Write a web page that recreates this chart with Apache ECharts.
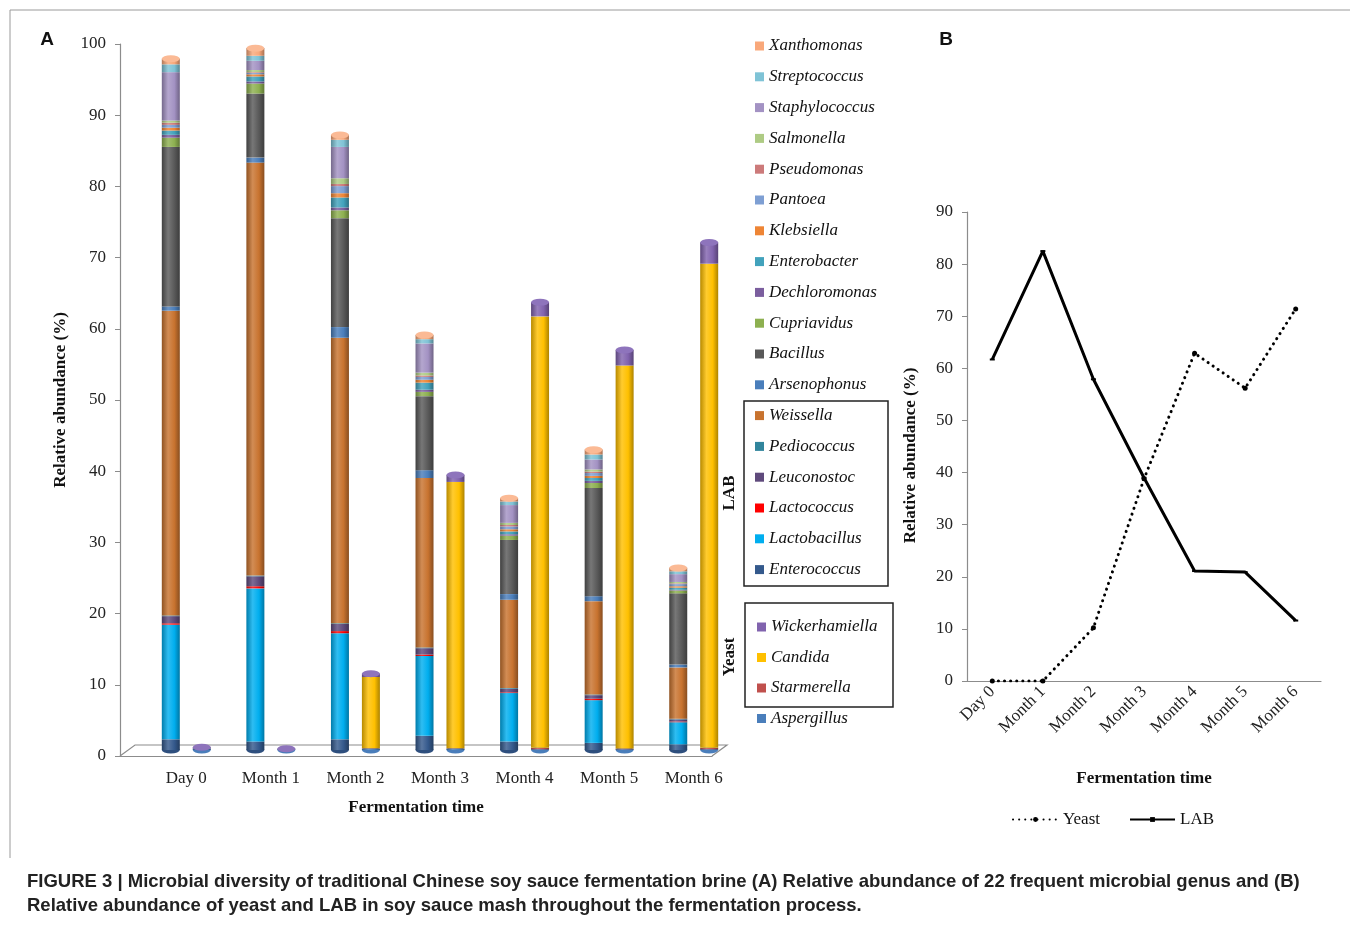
<!DOCTYPE html>
<html><head><meta charset="utf-8">
<script src="https://cdn.jsdelivr.net/npm/echarts@6/dist/echarts.min.js"></script>
<style>html,body{margin:0;padding:0;background:#fff}#c{width:1350px;height:925px}</style>
</head><body><div id="c"></div>
<script>
// ---------- DATA ----------
const categories = ['Day 0','Month 1','Month 2','Month 3','Month 4','Month 5','Month 6'];
const yTicksA = [0,10,20,30,40,50,60,70,80,90,100];

// Bacteria (stack order bottom -> top)
const Enterococcus   = [1.5, 1.2, 1.5, 2.0, 1.2, 1.0, 0.8];
const Lactobacillus  = [16.1, 21.5, 14.9, 11.2, 6.8, 6.0, 3.1];
const Lactococcus    = [0.2, 0.3, 0.3, 0.2, 0.1, 0.2, 0.1];
const Leuconostoc    = [1.0, 1.4, 1.0, 0.9, 0.5, 0.5, 0.3];
const Pediococcus    = [0.1, 0.1, 0.1, 0.1, 0.1, 0.1, 0.1];
const Weissella      = [42.8, 58.0, 40.1, 23.8, 12.4, 13.1, 7.2];
const Arsenophonus   = [0.6, 0.7, 1.5, 1.1, 0.8, 0.7, 0.4];
const Bacillus       = [22.4, 9.0, 15.3, 10.4, 7.6, 15.2, 10.0];
const Cupriavidus    = [1.3, 1.4, 1.1, 0.6, 0.6, 0.7, 0.4];
const Dechloromonas  = [0.4, 0.3, 0.4, 0.3, 0.2, 0.3, 0.1];
const Enterobacter   = [0.6, 0.7, 1.4, 1.0, 0.4, 0.4, 0.3];
const Klebsiella     = [0.4, 0.3, 0.6, 0.4, 0.3, 0.3, 0.2];
const Pantoea        = [0.4, 0.2, 1.0, 0.4, 0.4, 0.4, 0.3];
const Pseudomonas    = [0.3, 0.1, 0.3, 0.2, 0.2, 0.2, 0.1];
const Salmonella     = [0.3, 0.3, 0.8, 0.4, 0.3, 0.3, 0.2];
const Staphylococcus = [6.8, 1.3, 4.4, 4.1, 2.5, 1.4, 1.1];
const Streptococcus  = [1.1, 0.7, 1.0, 0.6, 0.5, 0.7, 0.4];
const Xanthomonas    = [0.8, 1.1, 0.7, 0.6, 0.5, 0.7, 0.5];

// Yeast / fungi (stack order bottom -> top)
const Aspergillus    = [0.2, 0.1, 0.2, 0.2, 0.1, 0.1, 0.1];
const Starmerella    = [0.0, 0.0, 0.05, 0.05, 0.2, 0.1, 0.2];
const Candida        = [0.0, 0.0, 10.0, 37.4, 60.6, 53.8, 68.0];
const Wickerhamiella = [0.2, 0.1, 0.5, 1.0, 2.0, 2.2, 3.0];

// Panel B
const yeastLine = [0, 0, 10.2, 38.8, 62.9, 56.2, 71.4];
const labLine   = [61.7, 82.5, 57.9, 39.0, 21.1, 20.9, 11.6];
const yTicksB = [0,10,20,30,40,50,60,70,80,90];

const bacteriaNames = ['Enterococcus','Lactobacillus','Lactococcus','Leuconostoc','Pediococcus','Weissella','Arsenophonus','Bacillus','Cupriavidus','Dechloromonas','Enterobacter','Klebsiella','Pantoea','Pseudomonas','Salmonella','Staphylococcus','Streptococcus','Xanthomonas'];
const bacteriaValues = [Enterococcus,Lactobacillus,Lactococcus,Leuconostoc,Pediococcus,Weissella,Arsenophonus,Bacillus,Cupriavidus,Dechloromonas,Enterobacter,Klebsiella,Pantoea,Pseudomonas,Salmonella,Staphylococcus,Streptococcus,Xanthomonas];
const bacteriaColors = ['#34598C','#00AEEF','#FF0000','#5F4A7C','#31859C','#C8732F','#4A7EBB','#595959','#8DB050','#7B5E9E','#42A2BC','#EE8535','#7E9FD3','#CC7A7A','#AECB84','#A392C3','#7FC3D6','#F9A87A'];
const yeastNames = ['Aspergillus','Starmerella','Candida','Wickerhamiella'];
const yeastValues = [Aspergillus,Starmerella,Candida,Wickerhamiella];
const yeastColors = ['#4A7EBB','#C0504D','#FFC000','#8163AE'];

// ---------- HELPERS ----------
function shade(hex, f){
  const n = parseInt(hex.slice(1),16);
  let r=(n>>16)&255,g=(n>>8)&255,b=n&255;
  if(f<1){r*=f;g*=f;b*=f;} else {r=r+(255-r)*(f-1);g=g+(255-g)*(f-1);b=b+(255-b)*(f-1);}
  return 'rgb('+Math.round(r)+','+Math.round(g)+','+Math.round(b)+')';
}
function cyl(hex){
  return new echarts.graphic.LinearGradient(0,0,1,0,[
    {offset:0,color:shade(hex,0.72)},
    {offset:0.35,color:shade(hex,1.18)},
    {offset:0.7,color:hex},
    {offset:1,color:shade(hex,0.68)}
  ]);
}
function sums(list){ return categories.map((_,i)=>+list.reduce((s,a)=>s+a[i],0).toFixed(2)); }
const bacTotal = sums(bacteriaValues);
const yeastTotal = sums(yeastValues);

// ---------- LAYOUT CONSTANTS ----------
const BW = 18, BGAP = '72%';
const FRONT = {left:120, top:44, width:592, height:712};
const DEPTH = {dx:15, dy:-11};
const SERIF = 'Liberation Serif';

const chart = echarts.init(document.getElementById('c'), null, {renderer:'canvas'});

const series = [];
bacteriaNames.forEach((n,i)=>series.push({
  name:n, type:'bar', stack:'bac', xAxisIndex:0, yAxisIndex:0,
  barWidth:BW, barGap:BGAP, data:bacteriaValues[i], z:2,
  itemStyle:{color:cyl(bacteriaColors[i])}
}));
yeastNames.forEach((n,i)=>series.push({
  name:n, type:'bar', stack:'yeast', xAxisIndex:0, yAxisIndex:0,
  barWidth:BW, barGap:BGAP, data:yeastValues[i], z:2,
  itemStyle:{color:cyl(yeastColors[i])}
}));
// top caps
series.push({name:'capBac', type:'pictorialBar', xAxisIndex:0, yAxisIndex:0, barWidth:BW, barGap:BGAP,
  symbol:'circle', symbolSize:[BW,7], symbolPosition:'end', symbolOffset:[0,'-50%'], z:5,
  itemStyle:{color:'#FBBA95', borderColor:'rgba(150,80,40,0.5)', borderWidth:0.6}, data:bacTotal, silent:true});
series.push({name:'capYeast', type:'pictorialBar', xAxisIndex:0, yAxisIndex:0, barWidth:BW, barGap:BGAP,
  symbol:'circle', symbolSize:[BW,7], symbolPosition:'end', symbolOffset:[0,'-50%'], z:5,
  itemStyle:{color:'#8E74BC', borderColor:'rgba(60,40,90,0.5)', borderWidth:0.6}, data:yeastTotal, silent:true});
// bottom caps (separate identical grid so they share slots)
series.push({name:'botBac', type:'pictorialBar', xAxisIndex:3, yAxisIndex:3, barWidth:BW, barGap:BGAP,
  symbol:'circle', symbolSize:[BW,7], symbolPosition:'start', symbolOffset:[0,'50%'], z:1,
  itemStyle:{color:'#2E4F7E'}, data:bacTotal, silent:true});
series.push({name:'botYeast', type:'pictorialBar', xAxisIndex:3, yAxisIndex:3, barWidth:BW, barGap:BGAP,
  symbol:'circle', symbolSize:[BW,7], symbolPosition:'start', symbolOffset:[0,'50%'], z:1,
  itemStyle:{color:'#4A7EBB'}, data:yeastTotal, silent:true});
// Panel B lines
series.push({name:'Yeast', type:'line', xAxisIndex:2, yAxisIndex:2, data:yeastLine,
  symbol:'circle', symbolSize:5, itemStyle:{color:'#000'},
  lineStyle:{color:'#000', width:3, type:[0.1,6], cap:'round'}});
series.push({name:'LAB', type:'line', xAxisIndex:2, yAxisIndex:2, data:labLine,
  symbol:'rect', symbolSize:[5,2], itemStyle:{color:'#000'},
  lineStyle:{color:'#000', width:3}});

const axisGray = '#8c8c8c';
const tickLbl = {fontFamily:SERIF, fontSize:17, color:'#222'};

const option = {
  animation:false,
  backgroundColor:'#fff',
  grid:[
    {left:FRONT.left+24, top:FRONT.top-6, width:FRONT.width, height:FRONT.height}, // bars (mid depth)
    {left:FRONT.left, top:FRONT.top, width:FRONT.width, height:FRONT.height},      // front frame
    {left:967, top:212, width:354, height:469},                                    // panel B
    {left:FRONT.left+24, top:FRONT.top-6, width:FRONT.width, height:FRONT.height}  // bottom caps
  ],
  xAxis:[
    {gridIndex:0, type:'category', data:categories, axisLine:{show:false}, axisTick:{show:false},
      axisLabel:Object.assign({margin:20}, tickLbl)},
    {gridIndex:1, type:'category', data:categories, axisLabel:{show:false},
      axisLine:{lineStyle:{color:axisGray, width:1.2}}, axisTick:{length:6, lineStyle:{color:axisGray}},
      name:'Fermentation time', nameLocation:'middle', nameGap:43,
      nameTextStyle:{fontFamily:SERIF, fontSize:17, fontWeight:'bold', color:'#111'}},
    {gridIndex:2, type:'category', data:categories,
      axisLine:{lineStyle:{color:axisGray, width:1.2}}, axisTick:{length:6, lineStyle:{color:axisGray}},
      axisLabel:Object.assign({rotate:45, margin:8}, tickLbl),
      name:'Fermentation time', nameLocation:'middle', nameGap:89,
      nameTextStyle:{fontFamily:SERIF, fontSize:17, fontWeight:'bold', color:'#111'}},
    {gridIndex:3, type:'category', data:categories, show:false}
  ],
  yAxis:[
    {gridIndex:0, type:'value', min:0, max:100, show:false},
    {gridIndex:1, type:'value', min:yTicksA[0], max:yTicksA[yTicksA.length-1], interval:10,
      axisLine:{show:true, lineStyle:{color:axisGray, width:1.2}}, axisTick:{show:true, length:5, lineStyle:{color:axisGray}},
      splitLine:{show:false}, axisLabel:Object.assign({margin:14}, tickLbl),
      name:'Relative abundance (%)', nameLocation:'middle', nameGap:51,
      nameTextStyle:{fontFamily:SERIF, fontSize:17, fontWeight:'bold', color:'#111'}},
    {gridIndex:2, type:'value', min:yTicksB[0], max:yTicksB[yTicksB.length-1], interval:10,
      axisLine:{show:true, lineStyle:{color:axisGray, width:1.2}}, axisTick:{show:true, length:5, lineStyle:{color:axisGray}},
      splitLine:{show:false}, axisLabel:Object.assign({margin:14}, tickLbl),
      name:'Relative abundance (%)', nameLocation:'middle', nameGap:48,
      nameTextStyle:{fontFamily:SERIF, fontSize:17, fontWeight:'bold', color:'#111', padding:[0,18,0,0]}},
    {gridIndex:3, type:'value', min:0, max:100, show:false}
  ],
  legend:[
    {orient:'vertical', left:755, top:37, padding:0, itemWidth:9, itemHeight:9, itemGap:12.8, selectedMode:false,
      icon:'rect',
      textStyle:{fontFamily:SERIF, fontSize:17, fontStyle:'italic', color:'#111', lineHeight:18},
      data:bacteriaNames.slice().reverse().map(n=>({name:n, itemStyle:{color:bacteriaColors[bacteriaNames.indexOf(n)]}}))},
    {orient:'vertical', left:757, top:618, padding:0, itemWidth:9, itemHeight:9, itemGap:12.5, selectedMode:false,
      icon:'rect',
      textStyle:{fontFamily:SERIF, fontSize:17, fontStyle:'italic', color:'#111', lineHeight:18},
      data:yeastNames.slice().reverse().map(n=>({name:n, itemStyle:{color:yeastColors[yeastNames.indexOf(n)]}}))},
    {orient:'horizontal', left:1012, top:811, padding:0, itemWidth:45, itemHeight:6, itemGap:29, selectedMode:false,
      textStyle:{fontFamily:SERIF, fontSize:17, color:'#111'},
      data:['Yeast','LAB']}
  ],
  series:series,
  graphic:[
    // figure frame
    {type:'line', shape:{x1:10, y1:10, x2:1350, y2:10}, style:{stroke:'#9a9a9a', lineWidth:1}},
    {type:'line', shape:{x1:10, y1:10, x2:10, y2:858}, style:{stroke:'#9a9a9a', lineWidth:1}},
    // 3D floor outline
    {type:'polyline', shape:{points:[
      [FRONT.left, FRONT.top+FRONT.height],
      [FRONT.left+DEPTH.dx, FRONT.top+FRONT.height+DEPTH.dy],
      [FRONT.left+FRONT.width+DEPTH.dx, FRONT.top+FRONT.height+DEPTH.dy],
      [FRONT.left+FRONT.width, FRONT.top+FRONT.height]
    ]}, style:{stroke:axisGray, lineWidth:1.2, fill:null}, z:0},
    // panel letters
    {type:'text', x:47, y:40, style:{text:'A', font:'bold 19px "Liberation Sans"', fill:'#111', align:'center', verticalAlign:'middle'}},
    {type:'text', x:946, y:40, style:{text:'B', font:'bold 19px "Liberation Sans"', fill:'#111', align:'center', verticalAlign:'middle'}},
    // group boxes
    {type:'rect', shape:{x:744, y:401, width:144, height:185}, style:{stroke:'#222', lineWidth:1.5, fill:null}},
    {type:'rect', shape:{x:745, y:603, width:148, height:104}, style:{stroke:'#222', lineWidth:1.5, fill:null}},
    {type:'text', x:730, y:493, rotation:Math.PI/2, style:{text:'LAB', font:'bold 17px "Liberation Serif"', fill:'#111', align:'center', verticalAlign:'middle'}},
    {type:'text', x:730, y:657, rotation:Math.PI/2, style:{text:'Yeast', font:'bold 17px "Liberation Serif"', fill:'#111', align:'center', verticalAlign:'middle'}},
    // caption
    {type:'text', x:27, y:882, style:{text:'FIGURE 3 | Microbial diversity of traditional Chinese soy sauce fermentation brine (A) Relative abundance of 22 frequent microbial genus and (B)', font:'bold 18.5px "Liberation Sans"', fill:'#222', verticalAlign:'middle'}},
    {type:'text', x:27, y:906, style:{text:'Relative abundance of yeast and LAB in soy sauce mash throughout the fermentation process.', font:'bold 18.5px "Liberation Sans"', fill:'#222', verticalAlign:'middle'}}
  ]
};
chart.setOption(option);
</script></body></html>
